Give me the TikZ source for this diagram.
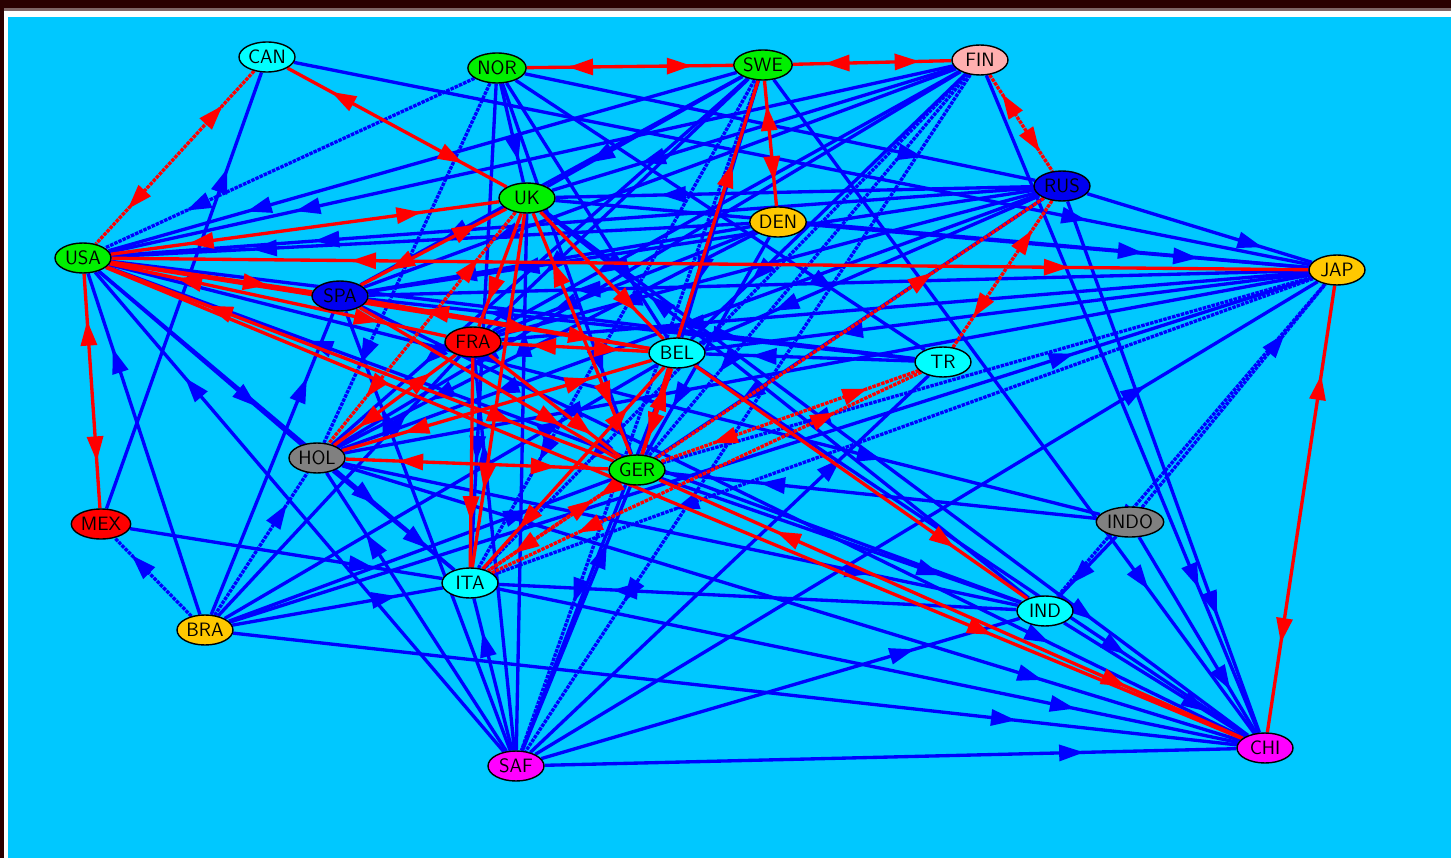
\documentclass[tikz,border=0pt]{standalone}
\usetikzlibrary{shapes.geometric,arrows.meta,decorations.markings}
\definecolor{skyback}{RGB}{0,200,255}
\definecolor{cyannode}{RGB}{0,255,255}
\definecolor{greennode}{RGB}{0,240,0}
\definecolor{orangenode}{RGB}{255,200,0}
\definecolor{pinknode}{RGB}{255,175,175}
\definecolor{magnode}{RGB}{255,0,255}
\definecolor{graynode}{RGB}{128,128,128}
\definecolor{bluenode}{RGB}{0,0,240}
\definecolor{winframe}{RGB}{42,0,0}
\pgfdeclarelayer{bg}
\pgfdeclarelayer{edges}
\pgfsetlayers{bg,edges,main}
\tikzset{
  country/.style={ellipse,draw=black,line width=0.8pt,minimum width=1.12cm,
    minimum height=0.6cm,inner sep=0.5pt,font=\fontsize{11}{12}\selectfont\sffamily},
  tipfw/.style={postaction={decorate},decoration={markings,
    mark=at position 0.78 with {\arrow{Triangle[length=5mm,width=3.2mm]}}}},
  tipboth/.style={postaction={decorate},decoration={markings,
    mark=at position 0.2 with {\arrowreversed{Triangle[length=5mm,width=3.2mm]}},
    mark=at position 0.8 with {\arrow{Triangle[length=5mm,width=3.2mm]}}}},
  hatch/.style={dash pattern=on 2pt off 0.6pt},
  bl/.style={blue,line width=1.9pt,tipfw},
  blh/.style={bl,hatch},
  rf/.style={red,line width=1.9pt,tipfw},
  rb/.style={red,line width=1.9pt,tipboth},
  rbh/.style={rb,hatch}
}
\begin{document}
\begin{tikzpicture}[x=0.02cm,y=-0.02cm]
\useasboundingbox (0,0) rectangle (1451,858);
\begin{pgfonlayer}{bg}
\fill[winframe] (0,0) rectangle (1451,8);
\fill[winframe!60!white] (0,8) rectangle (1451,11);
\fill[white] (0,11) rectangle (1451,17);
\fill[winframe] (0,0) rectangle (4,858);
\fill[white] (5,11) rectangle (8,858);
\fill[skyback] (8,17) rectangle (1451,858);
\end{pgfonlayer}

% countries
\node[country,fill=cyannode] (CAN) at (267,57) {CAN};
\node[country,fill=greennode] (NOR) at (497,68) {NOR};
\node[country,fill=greennode] (SWE) at (763,65) {SWE};
\node[country,fill=pinknode] (FIN) at (980,60) {FIN};
\node[country,fill=greennode] (UK) at (527,198) {UK};
\node[country,fill=orangenode] (DEN) at (778,222) {DEN};
\node[country,fill=bluenode] (RUS) at (1062,186) {RUS};
\node[country,fill=greennode] (USA) at (83,258) {USA};
\node[country,fill=orangenode] (JAP) at (1337,270) {JAP};
\node[country,fill=bluenode] (SPA) at (340,296) {SPA};
\node[country,fill=red] (FRA) at (473,342) {FRA};
\node[country,fill=cyannode] (BEL) at (677,353) {BEL};
\node[country,fill=cyannode] (TR) at (943,362) {TR};
\node[country,fill=graynode] (HOL) at (317,458) {HOL};
\node[country,fill=greennode] (GER) at (637,470) {GER};
\node[country,fill=red] (MEX) at (101,524) {MEX};
\node[country,fill=graynode,minimum width=1.34cm] (INDO) at (1130,522) {INDO};
\node[country,fill=cyannode] (ITA) at (470,583) {ITA};
\node[country,fill=cyannode] (IND) at (1045,611) {IND};
\node[country,fill=orangenode] (BRA) at (205,630) {BRA};
\node[country,fill=magnode] (SAF) at (516,766) {SAF};
\node[country,fill=magnode] (CHI) at (1265,748) {CHI};

\begin{pgfonlayer}{edges}
% blue flows
\foreach \a/\b in {SWE/USA,FIN/USA,RUS/USA,DEN/USA,SAF/USA,BRA/USA,IND/USA,
  USA/HOL,USA/ITA,USA/TR,USA/INDO,MEX/CAN,CAN/JAP,
  NOR/UK,NOR/GER,NOR/BEL,NOR/ITA,NOR/RUS,NOR/TR,
  SWE/UK,SWE/SPA,SWE/HOL,SWE/FRA,SWE/BEL,SWE/CHI,SWE/GER,
  FIN/UK,FIN/HOL,FIN/SPA,FIN/BEL,FIN/FRA,FIN/CHI,
  RUS/UK,RUS/SPA,RUS/HOL,RUS/BEL,RUS/GER,RUS/JAP,RUS/CHI,RUS/FRA,
  DEN/JAP,DEN/GER,DEN/HOL,DEN/SPA,DEN/FRA,UK/JAP,UK/CHI,IND/UK,
  JAP/HOL,JAP/BEL,JAP/SPA,JAP/FRA,TR/BEL,TR/SPA,
  INDO/GER,INDO/IND,INDO/CHI,IND/ITA,IND/CHI,GER/IND,HOL/IND,
  BRA/CHI,HOL/CHI,ITA/CHI,BEL/CHI,SPA/CHI,
  SAF/HOL,SAF/ITA,SAF/GER,SAF/UK,SAF/BEL,SAF/FRA,SAF/SPA,SAF/JAP,
  SAF/IND,SAF/CHI,SAF/TR,
  BRA/SPA,BRA/GER,BRA/ITA,BRA/BEL,BRA/JAP,BRA/FRA,MEX/ITA,HOL/ITA}
  \draw[bl] (\a) -- (\b);
\foreach \a/\b in {NOR/USA,NOR/HOL,SWE/ITA,FIN/GER,FIN/ITA,JAP/GER,JAP/ITA,
  JAP/IND,INDO/JAP,BRA/MEX,BRA/HOL,FIN/SAF,SWE/SAF}
  \draw[blh] (\a) -- (\b);
% red flows
\foreach \a/\b in {GER/SWE,BEL/IND,USA/CHI,UK/FRA,UK/BEL,UK/ITA,SPA/GER,
  FRA/GER,FRA/ITA,USA/SPA,USA/BEL}
  \draw[rf] (\a) -- (\b);
\foreach \a/\b in {NOR/SWE,SWE/FIN,SWE/DEN,USA/MEX,CAN/UK,USA/UK,USA/JAP,
  JAP/CHI,GER/CHI,UK/SPA,UK/GER,SPA/BEL,FRA/BEL,FRA/HOL,HOL/GER,HOL/BEL,
  BEL/GER,BEL/ITA,USA/FRA,USA/GER}
  \draw[rb] (\a) -- (\b);
\foreach \a/\b in {CAN/USA,FIN/RUS,RUS/TR,RUS/ITA,TR/GER,TR/ITA,UK/HOL,GER/ITA}
  \draw[rbh] (\a) -- (\b);
\end{pgfonlayer}
\end{tikzpicture}
\end{document}
